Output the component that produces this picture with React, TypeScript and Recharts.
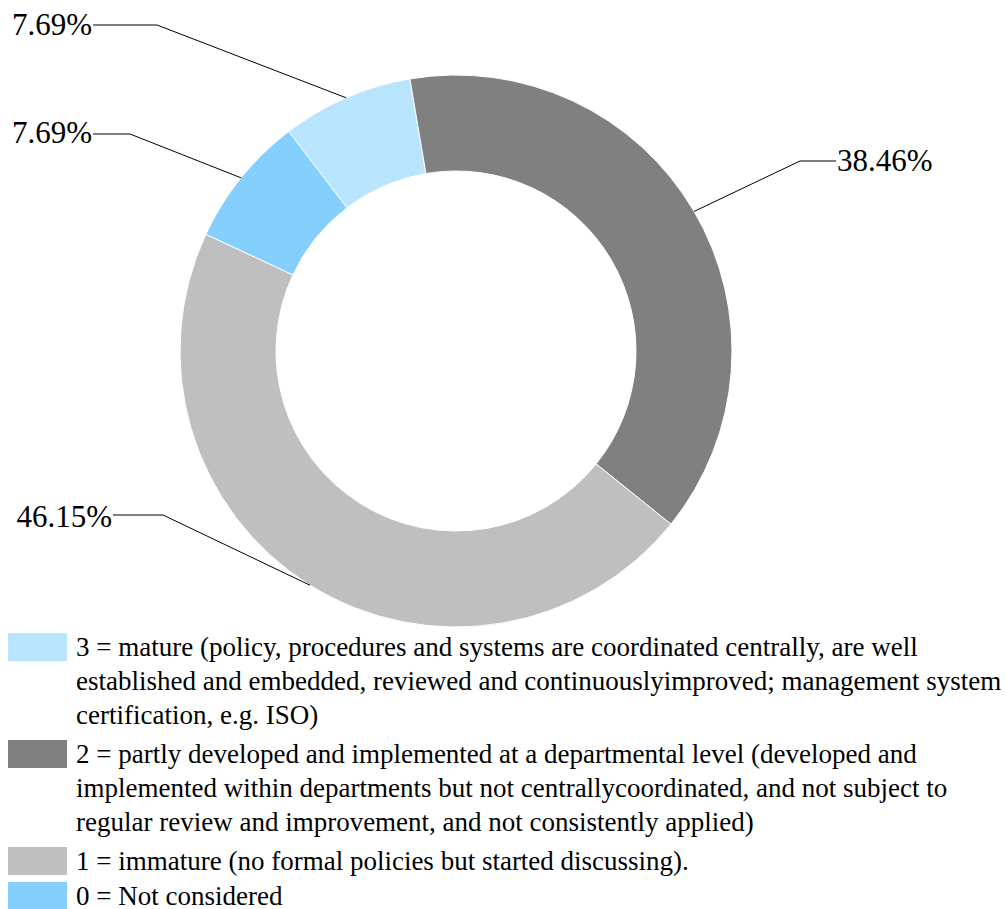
import { PieChart, Pie, Cell, Legend } from 'recharts';

const CATEGORIES = ['3 = mature', '2 = partly developed', '1 = immature', '0 = Not considered'];
const SHARES = [7.69, 38.46, 46.15, 7.69];
const PCT_LABELS = ['7.69%', '38.46%', '46.15%', '7.69%'];
const LEGEND_LINES = [
  [
    '3 = mature (policy, procedures and systems are coordinated centrally, are well',
    'established and embedded, reviewed and continuouslyimproved; management system',
    'certification, e.g. ISO)',
  ],
  [
    '2 = partly developed and implemented at a departmental level (developed and',
    'implemented within departments but not centrallycoordinated, and not subject to',
    'regular review and improvement, and not consistently applied)',
  ],
  ['1 = immature (no formal policies but started discussing).'],
  ['0 = Not considered'],
];
const COLORS = ['#B8E4FD', '#808080', '#BFBFBF', '#84CFFE'];

// where each percentage label sits (elbow of the leader line + text anchor)
const LABEL_LAYOUT = [
  { ex: 157, ey: 25, tx: 92, ty: 35, anchor: 'end' },
  { ex: 800, ey: 161, tx: 837, ty: 171, anchor: 'start' },
  { ex: 163, ey: 515, tx: 112, ty: 527, anchor: 'end' },
  { ex: 130, ey: 134, tx: 92, ty: 143, anchor: 'end' },
];
const LEGEND_GAPS = [0, 5, 5, 1];

const FONT = "'Liberation Serif', 'Times New Roman', serif";
const RADIAN = Math.PI / 180;

const chartData = CATEGORIES.map((name, i) => ({
  name,
  value: SHARES[i],
  label: PCT_LABELS[i],
  color: COLORS[i],
}));

function renderLabel(props: any) {
  const { cx, cy, midAngle, outerRadius, index } = props;
  const l = LABEL_LAYOUT[index];
  const sx = cx + outerRadius * Math.cos(-midAngle * RADIAN);
  const sy = cy + outerRadius * Math.sin(-midAngle * RADIAN);
  const endX = l.anchor === 'end' ? l.tx + 1 : l.tx - 1;
  return (
    <g key={`lbl-${index}`}>
      <path
        d={`M${sx},${sy}L${l.ex},${l.ey}L${endX},${l.ey}`}
        stroke="#000"
        strokeWidth={1}
        fill="none"
      />
      <text
        x={l.tx}
        y={l.ty}
        textAnchor={l.anchor}
        style={{ fontFamily: FONT }}
        fontSize={31}
        fill="#000"
      >
        {PCT_LABELS[index]}
      </text>
    </g>
  );
}

function renderLegend(props: any) {
  const payload = [...(props.payload || [])].sort(
    (a: any, b: any) => CATEGORIES.indexOf(a.value) - CATEGORIES.indexOf(b.value)
  );
  return (
    <div style={{ fontFamily: FONT, fontSize: 27, lineHeight: '34px', color: '#000' }}>
      {payload.map((entry: any, i: number) => (
        <div key={`leg-${i}`} style={{ position: 'relative', marginTop: LEGEND_GAPS[i], paddingLeft: 76 }}>
          <div
            style={{
              position: 'absolute',
              left: 8,
              top: 3,
              width: 59,
              height: 28,
              background: entry.color,
            }}
          />
          {LEGEND_LINES[i].map((line, j) => (
            <div key={j} style={{ whiteSpace: 'nowrap' }}>
              {line}
            </div>
          ))}
        </div>
      ))}
    </div>
  );
}

export default function App() {
  return (
    <div style={{ position: 'absolute', left: 0, top: 0, width: 1007, height: 909, background: '#fff', overflow: 'hidden' }}>
      <PieChart width={1007} height={909} margin={{ top: 0, right: 0, bottom: 0, left: 0 }}>
        <Pie
          data={chartData}
          dataKey="value"
          nameKey="name"
          cx={456}
          cy={351}
          innerRadius={180}
          outerRadius={276}
          startAngle={127.3}
          endAngle={-232.7}
          stroke="#fff"
          strokeWidth={1}
          label={renderLabel}
          labelLine={false}
          isAnimationActive={false}
        >
          {chartData.map((entry, index) => (
            <Cell key={`cell-${index}`} fill={entry.color} />
          ))}
        </Pie>
        <Legend
          content={renderLegend}
          wrapperStyle={{ position: 'absolute', left: 0, top: 630, width: 1007 }}
        />
      </PieChart>
    </div>
  );
}
